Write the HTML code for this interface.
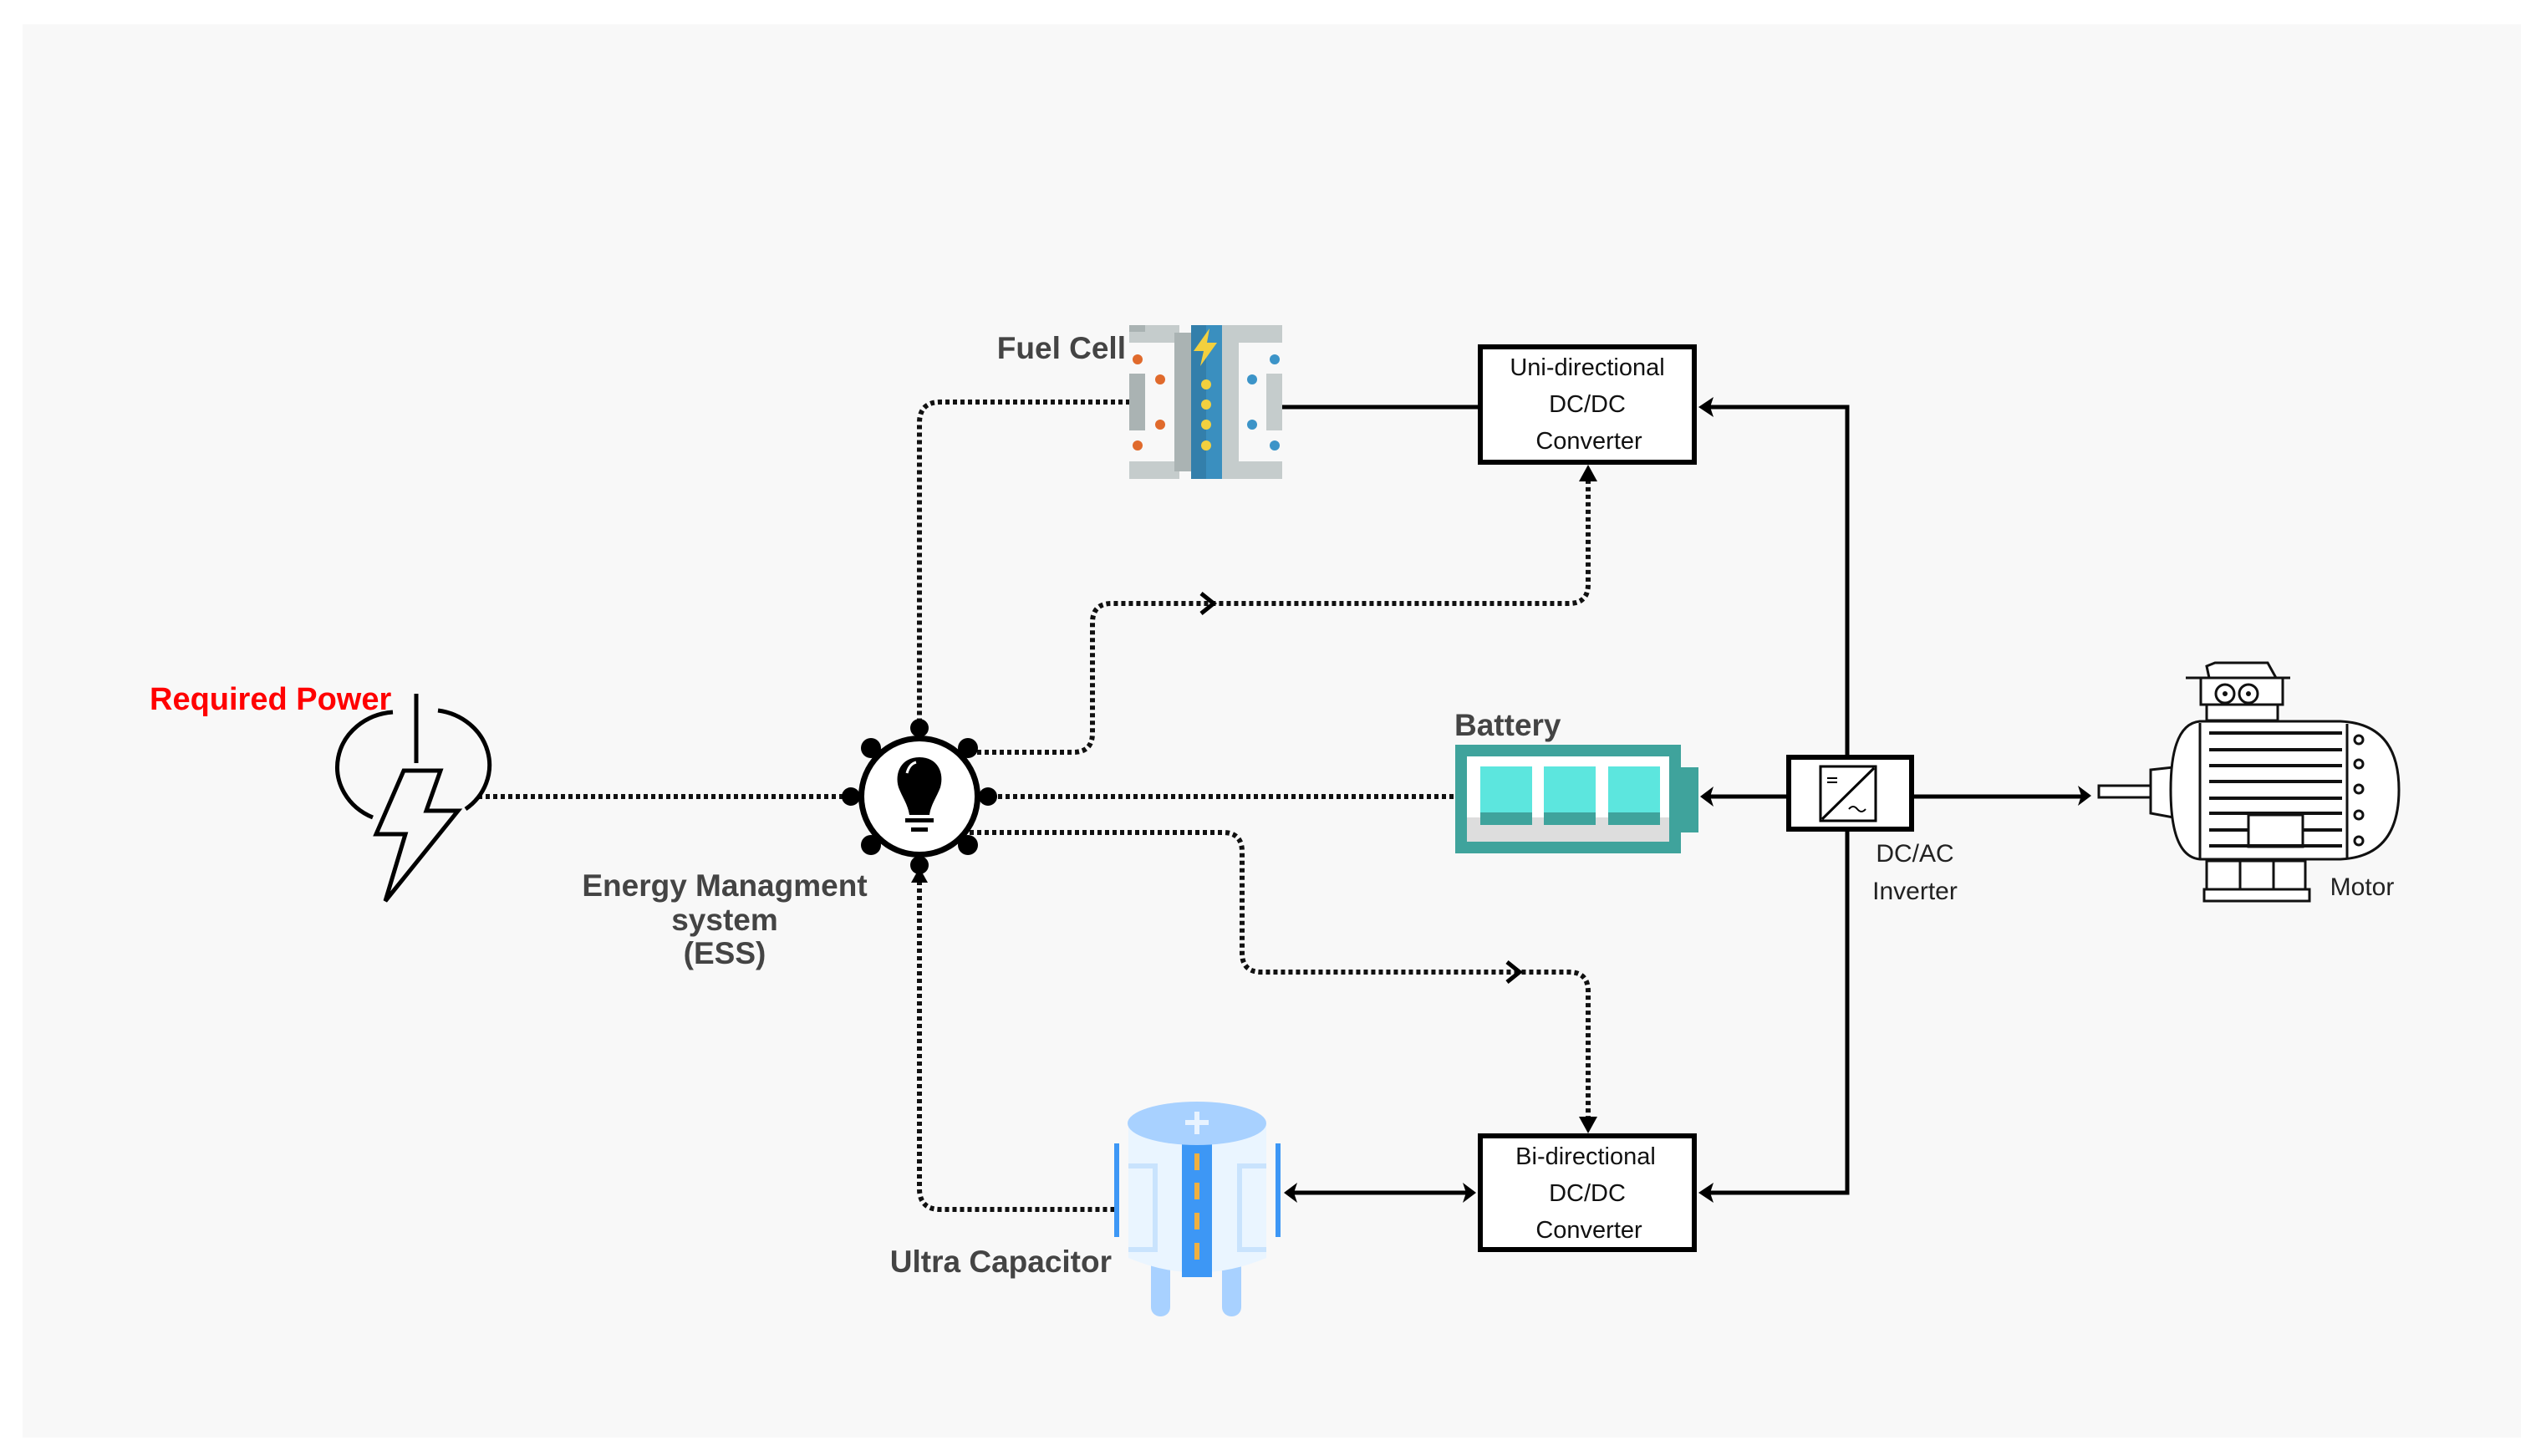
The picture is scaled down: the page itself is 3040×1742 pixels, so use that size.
<!DOCTYPE html>
<html><head><meta charset="utf-8"><style>
html,body{margin:0;padding:0;background:#fff;}
svg{display:block;}
text{font-family:"Liberation Sans",sans-serif;}
</style></head><body>
<svg width="3040" height="1742" viewBox="0 0 3040 1742" xmlns="http://www.w3.org/2000/svg">
<rect x="27" y="29" width="2989" height="1691" fill="#f8f8f8"/>

<!-- dotted connectors -->
<g fill="none" stroke="#111" stroke-width="6" stroke-dasharray="5 4">
  <path d="M572,953 H1012"/>
  <path d="M1185,953 H1741"/>
  <path d="M1352,481 H1125 Q1100,481 1100,506 V878"/>
  <path d="M1100,1045 V1422 Q1100,1447 1125,1447 H1333"/>
  <path d="M1160,900 H1284 Q1307,900 1307,877 V745 Q1307,722 1330,722 H1877 Q1900,722 1900,699 V568"/>
  <path d="M1160,996 H1463 Q1486,996 1486,1019 V1140 Q1486,1163 1509,1163 H1877 Q1900,1163 1900,1186 V1345"/>
</g>
<g fill="#000">
  <path d="M1100,884 l-10,-18 h20 z"/>
  <path d="M1100,1038 l-10,18 h20 z"/>
  <path d="M1900,556 l-11,20 h22 z"/>
  <path d="M1900,1356 l-11,-20 h22 z"/>
</g>
<g fill="none" stroke="#000" stroke-width="5">
  <path d="M1437,710 L1452,722 L1437,734"/>
  <path d="M1803,1151 L1818,1163 L1803,1175"/>
</g>

<!-- solid lines -->
<g fill="none" stroke="#000" stroke-width="5">
  <path d="M1534,487 H1768"/>
  <path d="M2210,903 V487 H2040"/>
  <path d="M2210,995 V1427 H2040"/>
  <path d="M2137,953 H2042"/>
  <path d="M2290,953 H2495"/>
  <path d="M1545,1427 H1758"/>
</g>
<g fill="#000">
  <path d="M2032,487 l18,-12 l-4,12 l4,12 z"/>
  <path d="M2032,1427 l18,-12 l-4,12 l4,12 z"/>
  <path d="M2034,953 l16,-12 l-4,12 l4,12 z"/>
  <path d="M2502,952 l-16,-12 l4,12 l-4,12 z"/>
  <path d="M1536,1427 l16,-12 l-4,12 l4,12 z"/>
  <path d="M1766,1427 l-16,-12 l4,12 l-4,12 z"/>
</g>

<!-- converter boxes -->
<rect x="1771" y="415" width="256" height="138" fill="#fff" stroke="#000" stroke-width="6"/>
<text x="1899" y="449" font-size="29" text-anchor="middle" fill="#111">Uni-directional</text>
<text x="1899" y="493" font-size="29" text-anchor="middle" fill="#111">DC/DC</text>
<text x="1901" y="537" font-size="29" text-anchor="middle" fill="#111">Converter</text>
<rect x="1771" y="1359" width="256" height="136" fill="#fff" stroke="#000" stroke-width="6"/>
<text x="1897" y="1393" font-size="29" text-anchor="middle" fill="#111">Bi-directional</text>
<text x="1899" y="1437" font-size="29" text-anchor="middle" fill="#111">DC/DC</text>
<text x="1901" y="1481" font-size="29" text-anchor="middle" fill="#111">Converter</text>

<!-- inverter -->
<rect x="2140" y="906" width="147" height="86" fill="#fff" stroke="#000" stroke-width="6"/>
<rect x="2178" y="917" width="66" height="65" fill="#fff" stroke="#000" stroke-width="3"/>
<path d="M2180,980 L2242,919" stroke="#000" stroke-width="3"/>
<path d="M2186,931 h12 M2186,936 h12" stroke="#000" stroke-width="2"/>
<path d="M2212,968 q5,-6 10,0 q5,6 10,0" stroke="#000" stroke-width="2" fill="none"/>
<text x="2291" y="1031" font-size="30" text-anchor="middle" fill="#222">DC/AC</text>
<text x="2291" y="1076" font-size="30" text-anchor="middle" fill="#222">Inverter</text>

<!-- motor -->
<g fill="#fff" stroke="#111" stroke-width="3">
  <rect x="2511" y="940" width="62" height="14"/>
  <path d="M2573,921 L2600,918 V978 L2573,973 z"/>
  <path d="M2632,863 H2800 Q2870,866 2870,945 Q2870,1025 2800,1028 H2632 Q2597,1025 2597,945 Q2597,866 2632,863 z"/>
  <path d="M2632,865 V1027 M2808,866 V1027"/>
  <rect x="2640" y="1030" width="118" height="34"/>
  <path d="M2680,1030 V1064 M2720,1030 V1064"/>
  <rect x="2637" y="1064" width="126" height="14"/>
  <rect x="2640" y="842" width="85" height="20"/>
  <rect x="2633" y="811" width="98" height="32"/>
  <path d="M2640,797 L2650,793 H2713 L2723,811 H2643 z"/>
  <path d="M2615,811 H2740" />
  <circle cx="2662" cy="830" r="11"/><circle cx="2690" cy="830" r="11"/>
  <rect x="2690" y="975" width="65" height="38"/>
  <circle cx="2822" cy="885" r="5"/><circle cx="2822" cy="914" r="5"/><circle cx="2822" cy="944" r="5"/><circle cx="2822" cy="975" r="5"/><circle cx="2822" cy="1006" r="5"/>
</g>
<circle cx="2662" cy="830" r="3" fill="#111"/><circle cx="2690" cy="830" r="3" fill="#111"/>
<g stroke="#111" stroke-width="4">
  <path d="M2643,877 H2802 M2643,897 H2802 M2643,916 H2802 M2643,935 H2802 M2643,955 H2802 M2643,973 H2802 M2643,993 H2690 M2755,993 H2802 M2643,1012 H2802"/>
</g>
<text x="2826" y="1071" font-size="30" text-anchor="middle" fill="#222">Motor</text>

<!-- battery -->
<rect x="1741" y="891" width="270" height="130" fill="#3fa39c"/>
<rect x="2011" y="918" width="21" height="78" fill="#3fa39c"/>
<rect x="1755" y="905" width="242" height="102" fill="#fff"/>
<rect x="1755" y="978" width="242" height="29" fill="#ddd"/>
<rect x="1771" y="917" width="62" height="70" fill="#5ce6de"/>
<rect x="1847" y="917" width="62" height="70" fill="#5ce6de"/>
<rect x="1924" y="917" width="62" height="70" fill="#5ce6de"/>
<rect x="1771" y="972" width="62" height="15" fill="#3fa39c"/>
<rect x="1847" y="972" width="62" height="15" fill="#3fa39c"/>
<rect x="1924" y="972" width="62" height="15" fill="#3fa39c"/>
<text x="1740" y="880" font-size="37" font-weight="bold" fill="#444">Battery</text>

<!-- fuel cell -->
<g>
  <rect x="1351" y="389" width="60" height="21" fill="#c5cccc"/>
  <rect x="1351" y="552" width="60" height="21" fill="#c5cccc"/>
  <rect x="1351" y="389" width="19" height="8" fill="#aab3b3"/>
  <rect x="1351" y="447" width="19" height="68" fill="#aab3b3"/>
  <rect x="1405" y="398" width="20" height="166" fill="#aab3b3"/>
  <rect x="1425" y="389" width="37" height="184" fill="#3a8fbf"/>
  <rect x="1425" y="389" width="18" height="184" fill="#337fab"/>
  <rect x="1462" y="398" width="20" height="166" fill="#c5cccc"/>
  <rect x="1462" y="389" width="72" height="21" fill="#c5cccc"/>
  <rect x="1462" y="552" width="72" height="21" fill="#c5cccc"/>
  <rect x="1515" y="447" width="19" height="68" fill="#c5cccc"/>
  <path d="M1447,393 L1428,420 L1440,420 L1436,438 L1456,410 L1444,410 z" fill="#f3d03e"/>
  <g fill="#f3d03e"><circle cx="1443" cy="460" r="6"/><circle cx="1443" cy="484" r="6"/><circle cx="1443" cy="508" r="6"/><circle cx="1443" cy="533" r="6"/></g>
  <g fill="#e06a2c"><circle cx="1361" cy="430" r="6"/><circle cx="1388" cy="454" r="6"/><circle cx="1388" cy="508" r="6"/><circle cx="1361" cy="533" r="6"/></g>
  <g fill="#3c94c8"><circle cx="1525" cy="430" r="6"/><circle cx="1498" cy="454" r="6"/><circle cx="1498" cy="508" r="6"/><circle cx="1525" cy="533" r="6"/></g>
</g>
<text x="1347" y="429" font-size="37" font-weight="bold" text-anchor="end" fill="#444">Fuel Cell</text>

<!-- ultra capacitor -->
<g>
  <rect x="1377" y="1500" width="23" height="75" rx="11" fill="#a8d1ff"/>
  <rect x="1462" y="1500" width="23" height="75" rx="11" fill="#a8d1ff"/>
  <path d="M1350,1344 H1515 V1505 Q1432,1540 1350,1505 z" fill="#eaf5ff"/>
  <path d="M1350,1395 H1382 V1495 H1350" fill="none" stroke="#c9e3fd" stroke-width="6"/>
  <path d="M1515,1395 H1483 V1495 H1515" fill="none" stroke="#c9e3fd" stroke-width="6"/>
  <rect x="1414" y="1368" width="36" height="160" fill="#3d97f5"/>
  <g fill="#f0b040"><rect x="1429" y="1380" width="6" height="20"/><rect x="1429" y="1415" width="6" height="20"/><rect x="1429" y="1451" width="6" height="20"/><rect x="1429" y="1487" width="6" height="20"/></g>
  <ellipse cx="1432" cy="1344" rx="83" ry="26" fill="#a8d1ff"/>
  <path d="M1432,1330 V1357 M1418,1343 H1446" stroke="#e8f3ff" stroke-width="6"/>
  <rect x="1333" y="1368" width="6" height="112" fill="#3d97f5"/>
  <rect x="1526" y="1368" width="6" height="112" fill="#3d97f5"/>
</g>
<text x="1330" y="1522" font-size="37" font-weight="bold" text-anchor="end" fill="#444">Ultra Capacitor</text>

<!-- required power icon -->
<g fill="none" stroke="#000" stroke-width="5">
  <path d="M470,852 A72,66 0 0 0 446,978"/>
  <path d="M524,850 A72,66 0 0 1 557,968"/>
  <path d="M498,830 V913"/>
  <path d="M483,922 H527 L510,970 H548 L461,1078 L485,998 H450 z" stroke-linejoin="miter"/>
</g>
<text x="179" y="849" font-size="38" font-weight="bold" fill="#ff0000">Required Power</text>

<!-- ESS gear -->
<g>
  <g fill="#000">
    <circle cx="1100" cy="871" r="11"/><circle cx="1100" cy="1035" r="11"/>
    <circle cx="1018" cy="953" r="11"/><circle cx="1182" cy="953" r="11"/>
    <circle cx="1042" cy="895" r="12"/><circle cx="1158" cy="895" r="12"/>
    <circle cx="1042" cy="1011" r="12"/><circle cx="1158" cy="1011" r="12"/>
  </g>
  <circle cx="1100" cy="953" r="73" fill="#000"/>
  <circle cx="1100" cy="953" r="66" fill="#fff"/>
  <path d="M1100,906 C1078,906 1070,925 1075,942 C1080,955 1086,962 1088,975 H1112 C1114,962 1120,955 1125,942 C1130,925 1122,906 1100,906 z" fill="#000"/>
  <path d="M1085,925 Q1088,914 1096,912" stroke="#fff" stroke-width="3" fill="none"/>
  <rect x="1083" y="979" width="34" height="5" fill="#000"/>
  <rect x="1090" y="990" width="20" height="5" fill="#000"/>
</g>
<text x="867" y="1072" font-size="37" font-weight="bold" text-anchor="middle" fill="#444">Energy Managment</text>
<text x="867" y="1113" font-size="37" font-weight="bold" text-anchor="middle" fill="#444">system</text>
<text x="867" y="1153" font-size="37" font-weight="bold" text-anchor="middle" fill="#444">(ESS)</text>
</svg>
</body></html>
